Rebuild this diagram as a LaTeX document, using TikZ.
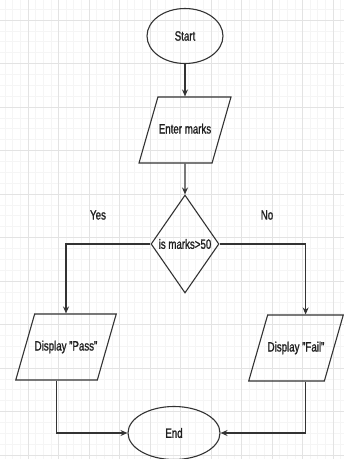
\documentclass[tikz,border=0pt]{standalone}
\usepackage{fontspec}
\setmainfont{Liberation Sans}[FakeStretch=0.72,FakeBold=1.2]
\usetikzlibrary{arrows.meta,shapes.geometric}

\begin{document}
\begin{tikzpicture}[x=1pt,y=-1pt,
  line/.style={draw=black!80,line width=1.1pt},
  flow/.style={line,-{Stealth[length=7pt,width=6pt]}},
  txt/.style={font=\fontsize{13.5}{15}\selectfont,text=black!88},
  terminal/.style={ellipse,line,txt,inner sep=0pt},
  io/.style={trapezium,trapezium left angle=74,trapezium right angle=106,
    trapezium stretches body,line,txt,inner xsep=0pt,inner ysep=26.5pt,
    text height=10pt,text depth=3pt,minimum width=92pt},
  decision/.style={diamond,line,txt,inner sep=0pt,
    minimum width=68pt,minimum height=98pt},
  minorline/.style={draw=black!4,line width=0.5pt},
  majorline/.style={draw=black!11,line width=0.6pt},
]

\useasboundingbox (0,0) rectangle (344,459);
\foreach \k in {0,...,44}
  \draw[minorline] ({5.1+7.625*\k},0) -- ++(0,459);
\foreach \k in {0,...,41}
  \draw[minorline] (0,{9.1+10.875*\k}) -- ++(344,0);
\foreach \k in {0,...,10}
  \draw[majorline] ({28+30.5*\k},0) -- ++(0,459);
\foreach \k in {0,...,10}
  \draw[majorline] (0,{20+43.5*\k}) -- ++(344,0);

\node[terminal,minimum width=76pt,minimum height=55pt] (start) at (185,36) {Start};
\node[io] (enter) at (185,130) {Enter marks};
\node[decision] (check) at (185,244) {is marks>50};
\node[txt] (yes) at (98,215) {Yes};
\node[txt] (no) at (267,215) {No};
\node[io] (pass) at (66,347) {Display "Pass"};
\node[io] (fail) at (296,348) {Display "Fail"};
\node[terminal,minimum width=92pt,minimum height=53pt] (finish) at (174,433) {End};

\draw[flow] (start) -- (enter);
\draw[flow] (enter) -- (check);
\draw[flow] (check.west) -| (pass.north);
\draw[flow] (check.east) -| (fail.top side);
\draw[flow] (pass.bottom side) |- (finish.west);
\draw[flow] (fail.bottom side -| fail.top side) |- (finish.east);

\end{tikzpicture}
\end{document}
